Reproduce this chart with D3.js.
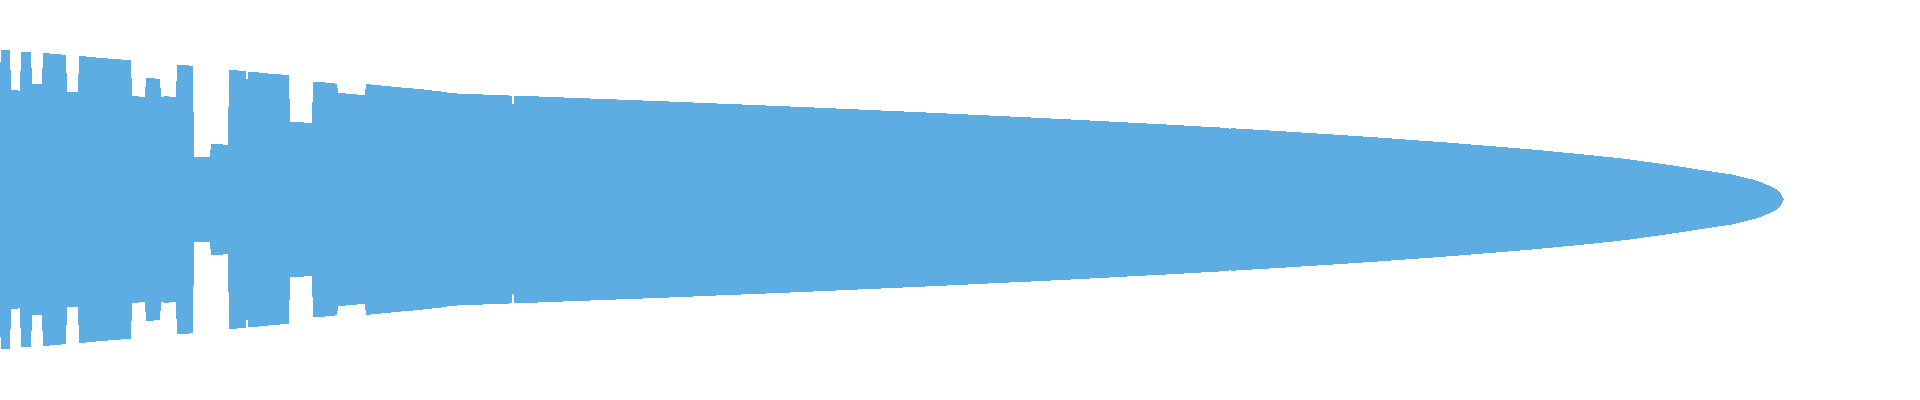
<!DOCTYPE html>
<html>
<head>
<meta charset="utf-8">
<script src="https://cdn.jsdelivr.net/npm/d3@7"></script>
<style>
  html, body { margin: 0; padding: 0; background: #ffffff; overflow: hidden; }
  svg { display: block; }
</style>
</head>
<body>
<svg id="chart" width="1920" height="400"></svg>
<script>
// Sample positions (arbitrary time units)
const times = [
  0, 0.5, 5, 5.5, 8.5, 10, 10.5, 15.5, 16, 21, 21.5, 24.5, 30.5, 33, 33.5, 39, 39.5, 42.5, 48, 54,
  59.5, 65.5, 66, 68, 72.5, 73, 76.5, 80, 80.5, 82.5, 88, 88.5, 92.5, 96.5, 97, 105, 105.5, 114, 114.5, 118.5,
  123, 123.5, 124, 129, 134, 139, 144.5, 145, 148, 156, 156.5, 162, 167, 168.5, 169, 172.5, 177.5, 182.5, 183, 190,
  200, 211, 220, 226.5, 240, 254, 256, 256.5, 257, 267.5, 280.5, 306, 332, 356.5, 381, 404, 427.5, 449.5, 471, 492.5,
  513, 533, 552.5, 571, 589.5, 607, 614.5, 615, 615.5, 624, 640.5, 656.5, 672, 686.5, 701, 714.5, 727.5, 740, 752, 764,
  775, 785, 795, 805, 813.5, 821.5, 830, 840, 848.5, 858.5, 866, 871, 876.5, 881.5, 885, 888.5, 890.5, 892
];
// Half-width (symmetric) values at each sample
const halfWidths = [
  83.3, 100, 100, 73.3, 73, 72.7, 98.7, 98.7, 77.3, 77.3, 98, 97.7, 97, 96.7, 72, 72, 96, 95.7, 95, 94.3,
  93.7, 93.3, 69.3, 69, 68.7, 81.3, 81, 80.7, 68.7, 69, 68.7, 90.3, 90, 89.3, 28.7, 28.7, 37, 36.7, 86.7, 86.3,
  86, 75.3, 85.3, 85, 84.3, 83.7, 83.3, 52, 51.7, 51.3, 78.7, 78.3, 77.7, 77.3, 71.3, 71, 70.3, 70, 77.3, 76.3,
  75, 73.7, 72.3, 71, 70.3, 69.7, 69.3, 58, 69.3, 69, 68.3, 67, 65.7, 64.3, 63, 61.7, 60.3, 59, 57.7, 56.3,
  55, 53.7, 52.3, 51, 49.7, 48.3, 47.9, 46, 47.7, 47, 45.7, 44.3, 43, 41.7, 40.3, 39, 37.7, 36.3, 35, 33.7,
  32.3, 31, 29.7, 28.3, 27, 25.5, 24, 22, 20.2, 18.2, 16.7, 15.1, 13.3, 11.1, 8.9, 6.7, 4, 0
];
const xDomain = [0, 960];
const yDomain = [-100, 100];
const fillColor = "#5DADE2";

const data = times.map((t, i) => ({ t, v: halfWidths[i] }));

const svg = d3.select("#chart");
const W = 1920, H = 400;
const x = d3.scaleLinear().domain(xDomain).range([0, W]);
const y = d3.scaleLinear().domain(yDomain).range([349, 50]);

const area = d3.area()
  .x(d => x(d.t))
  .y0(d => y(-d.v))
  .y1(d => y(d.v))
  .curve(d3.curveLinear);

svg.append("path")
  .datum(data)
  .attr("d", area)
  .attr("fill", fillColor)
  .attr("stroke", "none")
  .attr("shape-rendering", "crispEdges");
</script>
</body>
</html>
